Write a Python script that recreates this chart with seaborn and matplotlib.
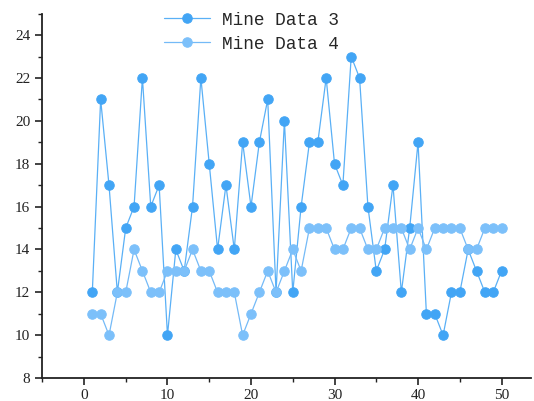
import matplotlib
matplotlib.use("Agg")
import matplotlib.pyplot as plt
import seaborn as sns
import pandas as pd
from matplotlib.ticker import MultipleLocator

x_vals = list(range(1, 51))
data3 = [12, 21, 17, 12, 15, 16, 22, 16, 17, 10,
         14, 13, 16, 22, 18, 14, 17, 14, 19, 16,
         19, 21, 12, 20, 12, 16, 19, 19, 22, 18,
         17, 23, 22, 16, 13, 14, 17, 12, 15, 19,
         11, 11, 10, 12, 12, 14, 13, 12, 12, 13]
data4 = [11, 11, 10, 12, 12, 14, 13, 12, 12, 13,
         13, 13, 14, 13, 13, 12, 12, 12, 10, 11,
         12, 13, 12, 13, 14, 13, 15, 15, 15, 14,
         14, 15, 15, 14, 14, 15, 15, 15, 14, 15,
         14, 15, 15, 15, 15, 14, 14, 15, 15, 15]
series_names = ["Mine Data 3", "Mine Data 4"]

sns.set_style("ticks")
plt.rcParams['font.family'] = ['Liberation Serif', 'DejaVu Serif']

fig = plt.figure(figsize=(5.34, 4.01), dpi=100)
ax = fig.add_axes([0.079, 0.057, 0.915, 0.909])

df3 = pd.DataFrame({"x": x_vals, "y": data3})
df4 = pd.DataFrame({"x": x_vals, "y": data4})

sns.lineplot(data=df3, x="x", y="y", ax=ax, color="#5AB0F6", linewidth=0.9,
             marker="o", markersize=6.8, markerfacecolor="#42A5F5",
             markeredgecolor="#42A5F5", label=series_names[0])
sns.lineplot(data=df4, x="x", y="y", ax=ax, color="#74BAF7", linewidth=0.9,
             marker="o", markersize=6.8, markerfacecolor="#7CC0FA",
             markeredgecolor="#7CC0FA", label=series_names[1])

ax.set_xlim(-5, 53.5)
ax.set_ylim(8, 25)
ax.xaxis.set_major_locator(MultipleLocator(10))
ax.xaxis.set_minor_locator(MultipleLocator(5))
ax.yaxis.set_major_locator(MultipleLocator(2))
ax.yaxis.set_minor_locator(MultipleLocator(1))
ax.set_xlabel("")
ax.set_ylabel("")
for s in ["top", "right"]:
    ax.spines[s].set_visible(False)
for s in ["left", "bottom"]:
    ax.spines[s].set_linewidth(1.3)
    ax.spines[s].set_color("#222222")
ax.tick_params(which="major", direction="out", length=5, width=1.2, labelsize=11, colors="#222222")
ax.tick_params(which="minor", direction="out", length=3, width=1.0, colors="#222222")
ax.tick_params(axis="x", which="major", pad=3)

leg = ax.legend(loc="upper left", bbox_to_anchor=(0.227, 1.035), frameon=False,
                prop={"family": "Liberation Mono", "size": 12.8},
                handlelength=2.6, handletextpad=0.7, labelspacing=0.4, borderaxespad=0.2)

fig.savefig("out.png", dpi=100)
